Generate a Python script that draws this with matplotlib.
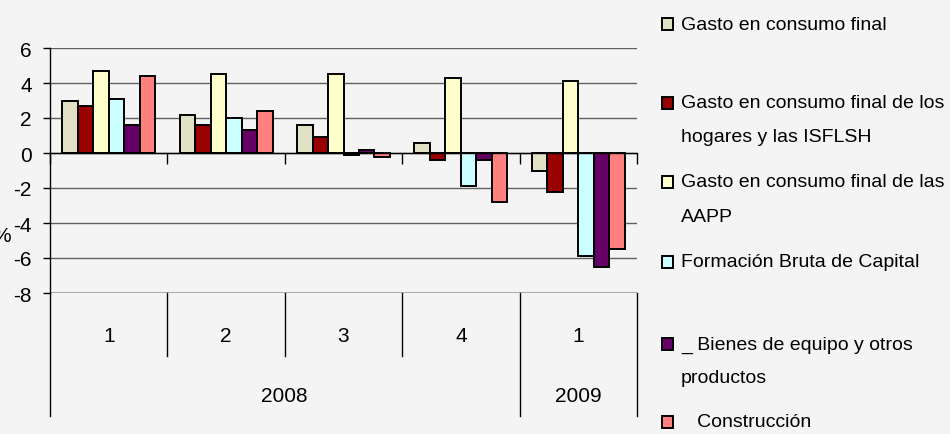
import numpy as np
import matplotlib
matplotlib.use('Agg')
import matplotlib.pyplot as plt
from matplotlib import font_manager
from matplotlib.patches import Rectangle
import matplotlib.transforms as mtransforms

# pick a narrow font if one is installed
names = {f.name for f in font_manager.fontManager.ttflist}
FONT = 'Liberation Sans Narrow' if 'Liberation Sans Narrow' in names else 'Liberation Sans'
plt.rcParams['font.family'] = [FONT, 'DejaVu Sans']
plt.rcParams['axes.unicode_minus'] = False

# data
quarters = ['1', '2', '3', '4', '1']
years = ['2008', '2009']
year_span = [(0, 3), (4, 4)]

series_names = [
    'Gasto en consumo final',
    'Gasto en consumo final de los\nhogares y las ISFLSH',
    'Gasto en consumo final de las\nAAPP',
    'Formación Bruta de Capital',
    '_ Bienes de equipo y otros\nproductos',
    '   Construcción',
]
consumo_final = [3.0, 2.2, 1.6, 0.6, -1.0]
consumo_hogares = [2.7, 1.6, 0.9, -0.4, -2.2]
consumo_aapp = [4.7, 4.5, 4.5, 4.3, 4.1]
fbc = [3.1, 2.0, -0.1, -1.9, -5.9]
bienes_equipo = [1.6, 1.3, 0.15, -0.4, -6.5]
construccion = [4.4, 2.4, -0.25, -2.8, -5.5]
series = [consumo_final, consumo_hogares, consumo_aapp, fbc, bienes_equipo, construccion]
colors = ['#E1E1C6', '#990000', '#FFFFCC', '#CCFFFF', '#660066', '#FF8080']

W, H = 950, 435
fig = plt.figure(figsize=(9.5, 4.35), dpi=100)
fig.patch.set_facecolor('#F4F4F4')

ax_l, ax_r, ax_t, ax_b = 50, 637, 49, 294
ax = fig.add_axes([ax_l / W, 1 - ax_b / H, (ax_r - ax_l) / W, (ax_b - ax_t) / H])
ax.set_facecolor('none')

x = np.arange(len(quarters))
bw = 0.132
for i, (vals, c) in enumerate(zip(series, colors)):
    ax.bar(x + (i - 2.5) * bw, vals, bw, color=c, edgecolor='black',
           linewidth=1.4, zorder=3)

ax.set_xlim(-0.5, 4.5)
ax.set_ylim(-8, 6)
ax.set_yticks(range(-8, 7, 2))
ax.yaxis.grid(True, color='#606060', linewidth=1.0, zorder=0)
ax.axhline(-8, color='black', linewidth=1.0, zorder=2)

for s in ['top', 'right']:
    ax.spines[s].set_visible(False)
ax.spines['left'].set_linewidth(1.0)
ax.spines['bottom'].set_position(('data', 0))
ax.spines['bottom'].set_linewidth(1.0)
ax.spines['bottom'].set_zorder(4)
ax.set_xticks(np.arange(-0.5, 5, 1))
ax.tick_params(axis='x', direction='out', length=8, width=1, labelbottom=False)
ax.tick_params(axis='y', direction='out', length=5, width=1, pad=8, labelsize=15)

# category table below the plot
tr = mtransforms.blended_transform_factory(ax.transData, ax.transAxes)
h_px = ax_b - ax_t
q_low = -63 / h_px
y_low = -123 / h_px
for b in np.arange(0.5, 4, 1):
    low = y_low if b == 3.5 else q_low
    ax.plot([b, b], [0, low], color='black', lw=1, transform=tr, clip_on=False)
for b in [-0.5, 4.5]:
    ax.plot([b, b], [0, y_low], color='black', lw=1, transform=tr, clip_on=False)
for xi, q in zip(x, quarters):
    ax.text(xi, -43 / h_px, q, transform=tr, ha='center', va='center', fontsize=15)
for (a, b), yr in zip(year_span, years):
    ax.text((a + b) / 2, -103 / h_px, yr, transform=tr, ha='center', va='center', fontsize=15)

# partially visible axis title
fig.text(-8 / W, 1 - 237 / H, '%', ha='left', va='center', fontsize=15)

# legend on the right
leg_y = [25, 104, 183, 263, 345, 423]
for name, c, yc in zip(series_names, colors, leg_y):
    fig.patches.append(Rectangle((662 / W, 1 - (yc + 6) / H), 11 / W, 12 / H,
                                 transform=fig.transFigure, facecolor=c,
                                 edgecolor='black', linewidth=1.4))
    for k, line in enumerate(name.split('\n')):
        fig.text(681 / W, 1 - (yc + 34 * k) / H, line, ha='left', va='center',
                 fontsize=14)

fig.savefig('out.png', dpi=100, facecolor=fig.get_facecolor())
